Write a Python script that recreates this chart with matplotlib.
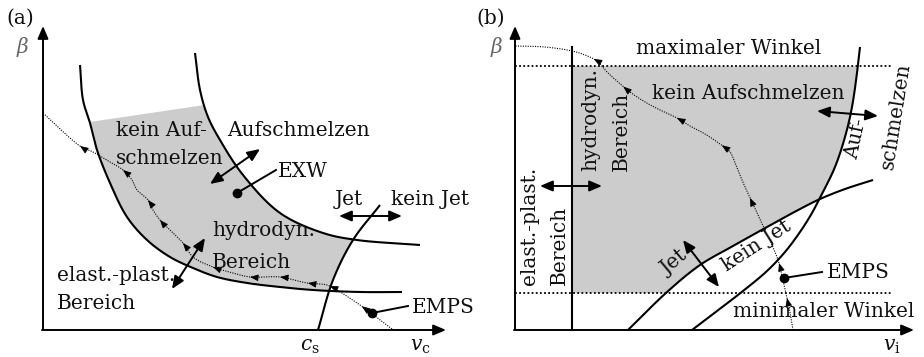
import numpy as np
import matplotlib
matplotlib.use("Agg")
import matplotlib.pyplot as plt
from matplotlib.patches import FancyArrowPatch, Polygon

plt.rcParams['font.family'] = ['DejaVu Serif']
plt.rcParams['mathtext.fontset'] = 'dejavuserif'

# ---------------- data (schematic curves, pixel-like units) ----------------
# panel (a)
a_left_curve = [(80, 65), (83, 100), (90, 123), (97, 150), (110, 183), (127, 217), (147, 240),
                (170, 257), (193, 268), (217, 277), (247, 283), (280, 287), (313, 290),
                (360, 292), (402, 292)]
a_right_curve = [(195, 53), (200, 90), (208, 117), (220, 140), (243, 175), (280, 213),
                 (323, 233), (357, 240), (420, 245)]
a_jet_line = [(318, 330), (333, 280), (353, 240), (380, 205)]
a_path = [(392, 329), (375, 316), (360, 305), (345, 295), (337, 290), (327, 285), (307, 283),
          (280, 277), (250, 277), (233, 273), (213, 267), (193, 257), (183, 243), (173, 233),
          (160, 220), (153, 210), (148, 200), (137, 190), (132, 180), (123, 170), (110, 162),
          (93, 152), (80, 146), (43, 113)]
a_path_arrows = [(362, 306), (330, 286), (308, 283), (280, 277), (250, 277), (213, 267),
                 (183, 243), (160, 220), (148, 200), (123, 170), (80, 146)]
a_gray_top = (122, 105)   # y where gray starts on left / right curve
a_exw = (237, 193)
a_emps = (372, 313)

# panel (b)
b_melt_curve = [(860, 47), (858, 65), (852, 107), (845, 137), (835, 167), (823, 192),
                (812, 213), (800, 232), (785, 252), (767, 271), (743, 291), (717, 311), (692, 330)]
b_jet_curve = [(628, 330), (667, 292), (700, 265), (733, 246), (767, 227), (800, 209),
               (820, 199), (845, 189), (873, 180)]
b_vline_x = 572
b_max_angle = 66
b_min_angle = 293
b_path = [(793, 330), (790, 312), (787, 298), (783, 280), (779, 263), (772, 245), (765, 230),
          (758, 215), (750, 198), (742, 180), (736, 165), (730, 152), (720, 144), (705, 134),
          (690, 126), (677, 118), (660, 110), (645, 102), (630, 92), (618, 82), (607, 72),
          (597, 61), (585, 55), (572, 51), (545, 47), (515, 46)]
b_path_arrows = [(787, 298), (779, 263), (750, 198), (722, 145), (677, 118), (623, 87), (594, 58)]
b_emps = (784, 278)

GRAY = '#cccccc'
FS = 14.5

W, H = 924, 357
fig = plt.figure(figsize=(W / 100, H / 100), dpi=100)
ax = fig.add_axes([0, 0, 1, 1])
ax.set_xlim(0, W)
ax.set_ylim(H, 0)
ax.axis('off')


def smooth(pts, n=24, alpha=0.5):
    """centripetal Catmull-Rom through the read points"""
    P = np.asarray(pts, float)
    P = np.vstack([2 * P[0] - P[1], P, 2 * P[-1] - P[-2]])
    out = []
    for i in range(1, len(P) - 2):
        p0, p1, p2, p3 = P[i - 1], P[i], P[i + 1], P[i + 2]
        t0 = 0.0
        t1 = t0 + np.hypot(*(p1 - p0)) ** alpha
        t2 = t1 + np.hypot(*(p2 - p1)) ** alpha
        t3 = t2 + np.hypot(*(p3 - p2)) ** alpha
        t = np.linspace(t1, t2, n, endpoint=False)[:, None]
        A1 = (t1 - t) / (t1 - t0) * p0 + (t - t0) / (t1 - t0) * p1
        A2 = (t2 - t) / (t2 - t1) * p1 + (t - t1) / (t2 - t1) * p2
        A3 = (t3 - t) / (t3 - t2) * p2 + (t - t2) / (t3 - t2) * p3
        B1 = (t2 - t) / (t2 - t0) * A1 + (t - t0) / (t2 - t0) * A2
        B2 = (t3 - t) / (t3 - t1) * A2 + (t - t1) / (t3 - t1) * A3
        C = (t2 - t) / (t2 - t1) * B1 + (t - t1) / (t2 - t1) * B2
        out.append(C)
    out.append(P[-2][None])
    return np.vstack(out)


def curve(pts, lw=1.5, **kw):
    s = smooth(pts)
    ax.plot(s[:, 0], s[:, 1], color='k', lw=lw, solid_capstyle='butt', zorder=3, **kw)
    return s


def darrow(p, q, lw=1.4):
    ax.add_patch(FancyArrowPatch(p, q, arrowstyle='<|-|>,head_length=0.75,head_width=0.32',
                                 mutation_scale=10, lw=lw, color='k', shrinkA=0, shrinkB=0,
                                 zorder=5))


def sarrow(p, q, lw=1.4):
    ax.add_patch(FancyArrowPatch(p, q, arrowstyle='-|>,head_length=0.75,head_width=0.32',
                                 mutation_scale=10, lw=lw, color='k', shrinkA=0, shrinkB=0,
                                 zorder=5))


def dotted_path(pts, arrows):
    s = smooth(pts)
    ax.plot(s[:, 0], s[:, 1], color='k', lw=0.8, ls=(0, (1, 1.2)), zorder=4)
    for a in arrows:
        k = int(np.argmin(np.hypot(s[:, 0] - a[0], s[:, 1] - a[1])))
        k0, k1 = max(k - 3, 0), min(k + 3, len(s) - 1)
        d = s[k1] - s[k0]
        d = d / np.hypot(*d)
        tip = s[k]
        ax.add_patch(FancyArrowPatch(tuple(tip - 4 * d), tuple(tip),
                                     arrowstyle='-|>,head_length=0.5,head_width=0.2',
                                     mutation_scale=10, lw=0.6, color='k',
                                     shrinkA=0, shrinkB=0, zorder=4))


def txt(x, y, s, **kw):
    kw.setdefault('ha', 'left')
    kw.setdefault('va', 'baseline')
    ax.text(x, y, s, fontsize=FS, color='#111111', zorder=6, **kw)


# ======================= panel (a) =======================
L = smooth(a_left_curve)
R = smooth(a_right_curve)
J = smooth(a_jet_line)
Lg = L[L[:, 1] >= a_gray_top[0]]
Rg = R[R[:, 1] >= a_gray_top[1]][::-1]
gray_a = Polygon(np.vstack([Lg, Rg]), closed=True, fc=GRAY, ec='none', zorder=1)
ax.add_patch(gray_a)
clip_a = Polygon(np.vstack([J, [(J[-1, 0], 0), (0, 0), (0, H), (J[0, 0], H)]]),
                 closed=True, transform=ax.transData)
gray_a.set_clip_path(clip_a)

curve(a_left_curve)
curve(a_right_curve)
curve(a_jet_line)
dotted_path(a_path, a_path_arrows)

# axes (a)
sarrow((43, 330), (43, 26))
sarrow((42, 330), (446, 330))

# markers (a)
ax.plot(*a_exw, 'o', color='k', ms=6, zorder=6)
ax.plot([a_exw[0], 276], [a_exw[1], 170], color='k', lw=1.4, zorder=6)
ax.plot(*a_emps, 'o', color='k', ms=6, zorder=6)
ax.plot([a_emps[0], 408], [a_emps[1], 306], color='k', lw=1.4, zorder=6)

darrow((210, 184), (260, 149))
darrow((339, 216), (402, 216))
darrow((172, 289), (205, 238))

txt(6, 24, '(a)')
ax.text(23, 47, r'$\beta$', fontsize=FS, color='#666666', ha='center', va='center')
ax.text(310, 346, r'$c_\mathrm{s}$', fontsize=FS, color='#111111', ha='center', va='center')
ax.text(420, 346, r'$v_\mathrm{c}$', fontsize=FS, color='#111111', ha='center', va='center')
txt(116, 136, 'kein Auf-')
txt(116, 164, 'schmelzen')
txt(227, 136, 'Aufschmelzen')
txt(278, 177, 'EXW')
txt(335, 205, 'Jet')
txt(391, 205, 'kein Jet')
txt(212, 236, 'hydrodyn.')
txt(212, 268, 'Bereich')
txt(57, 281, 'elast.-plast.')
txt(57, 309, 'Bereich')
txt(412, 313, 'EMPS')

# ======================= panel (b) =======================
M = smooth(b_melt_curve)
JB = smooth(b_jet_curve)
Mg = M[M[:, 1] >= b_max_angle]
gray_b = Polygon(np.vstack([[(b_vline_x, b_max_angle)], Mg, [(b_vline_x, H - 27)]]),
                 closed=True, fc=GRAY, ec='none', zorder=1)
ax.add_patch(gray_b)
JBc = JB[::-1].copy()
JBc[:, 1] = np.minimum(JBc[:, 1], b_min_angle)
clip_b = Polygon(np.vstack([[(0, 0), (W, 0), (W, JBc[0, 1])], JBc, [(0, b_min_angle)]]),
                 closed=True, transform=ax.transData)
gray_b.set_clip_path(clip_b)

curve(b_melt_curve)
curve(b_jet_curve)
ax.plot([b_vline_x, b_vline_x], [330, 47], color='k', lw=1.5, zorder=3)
for yy in (b_max_angle, b_min_angle):
    ax.plot([515, 892], [yy, yy], color='k', lw=1.3, ls=(0, (1, 1.3)), zorder=3)
dotted_path(b_path, b_path_arrows)

sarrow((515, 330), (515, 26))
sarrow((514, 330), (914, 330))

ax.plot(*b_emps, 'o', color='k', ms=6, zorder=6)
ax.plot([b_emps[0], 822], [b_emps[1], 272], color='k', lw=1.4, zorder=6)

darrow((540, 186), (602, 186))
darrow((817, 111), (878, 116))
darrow((683, 240), (719, 287))

txt(476, 24, '(b)')
ax.text(497, 47, r'$\beta$', fontsize=FS, color='#666666', ha='center', va='center')
ax.text(892, 346, r'$v_\mathrm{i}$', fontsize=FS, color='#111111', ha='center', va='center')
txt(729, 54, 'maximaler Winkel', ha='center')
txt(748, 99, 'kein Aufschmelzen', ha='center')
txt(824, 317, 'minimaler Winkel', ha='center')
txt(827, 278, 'EMPS')
txt(529, 285, 'elast.-plast.', rotation=90, ha='center', va='bottom')
txt(559, 285, 'Bereich', rotation=90, ha='center', va='bottom')
txt(591, 171, 'hydrodyn.', rotation=90, ha='center', va='bottom')
txt(621, 171, 'Bereich', rotation=90, ha='center', va='bottom')
txt(856, 139, 'Auf-', rotation=78, ha='center', va='center')
txt(896, 116, 'schmelzen', rotation=81, ha='center', va='center')
txt(674, 263, 'Jet', rotation=40, ha='center', va='center')
txt(757, 246, 'kein Jet', rotation=33, ha='center', va='center')

fig.savefig('out.png', dpi=100)
